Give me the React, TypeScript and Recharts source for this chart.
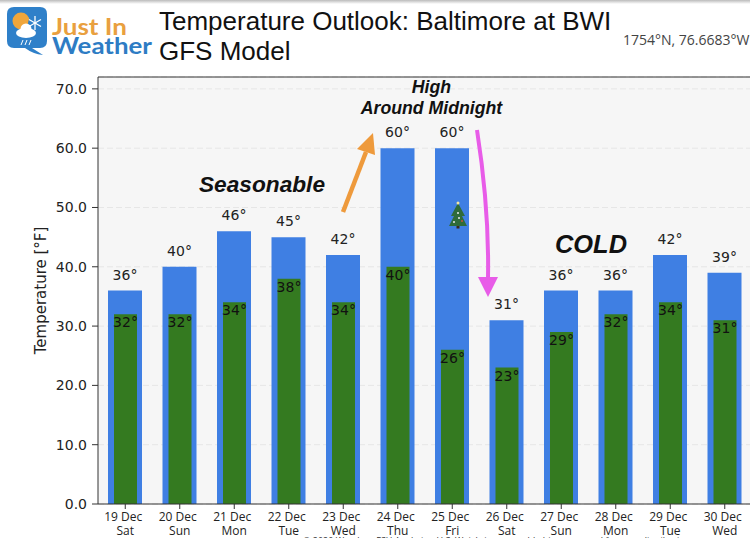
import React from 'react';
import { BarChart, Bar, XAxis, YAxis, CartesianGrid, LabelList } from 'recharts';

const days = ['19 Dec', '20 Dec', '21 Dec', '22 Dec', '23 Dec', '24 Dec', '25 Dec', '26 Dec', '27 Dec', '28 Dec', '29 Dec', '30 Dec'];
const weekdays = ['Sat', 'Sun', 'Mon', 'Tue', 'Wed', 'Thu', 'Fri', 'Sat', 'Sun', 'Mon', 'Tue', 'Wed'];
const highs = [36, 40, 46, 45, 42, 60, 60, 31, 36, 36, 42, 39];
const lows = [32, 32, 34, 38, 34, 40, 26, 23, 29, 32, 34, 31];
const yTicks = [0, 10, 20, 30, 40, 50, 60, 70];

const data = days.map((day, i) => ({ day, weekday: weekdays[i], high: highs[i], low: lows[i] }));

const plotFont = '"DejaVu Sans", sans-serif';
const titleFont = '"Liberation Sans", sans-serif';
const degrees = (v: number) => `${v}°`;

// two line date label, same as the original matplotlib ticks
const DayTick = ({ x, y, payload, index }: any) => (
    <text x={x} y={y} textAnchor="middle" fontFamily='"Open Sans", sans-serif' fontSize={12} fill="#222">
        <tspan x={x - 2} dy={10}>{payload.value}</tspan>
        <tspan x={x} dy={13.5}>{weekdays[index]}</tspan>
    </text>
);

const Overlay = () => (
    <svg width={750} height={538} style={{ position: 'absolute', left: 0, top: 0 }}>
        <defs>
            <linearGradient id="topShade" x1="0" y1="0" x2="0" y2="1">
                <stop offset="0%" stopColor="#bbb" />
                <stop offset="100%" stopColor="#fff" />
            </linearGradient>
        </defs>
        <rect x={0} y={0} width={750} height={4} fill="url(#topShade)" />

        {/* logo */}
        <path d="M14 7 H40 Q47 7 47 14 V41 Q47 48 40 48 H32 L43 55 Q33 54 25 48 H14 Q7 48 7 41 V14 Q7 7 14 7 Z" fill="#2f80c9" />
        <circle cx={21} cy={21} r={8.5} fill="#f0a63c" />
        <circle cx={35} cy={23} r={7} fill="#2f80c9" />
        <g stroke="#fff" strokeWidth={1.3}>
            <line x1={35} y1={16} x2={35} y2={30} />
            <line x1={29} y1={19.5} x2={41} y2={26.5} />
            <line x1={29} y1={26.5} x2={41} y2={19.5} />
        </g>
        <ellipse cx={26} cy={33} rx={10} ry={5} fill="#fff" />
        <circle cx={26} cy={29} r={5.5} fill="#fff" />
        <g stroke="#fff" strokeWidth={1}>
            <line x1={23} y1={40} x2={21} y2={45} />
            <line x1={27} y1={40} x2={25} y2={45} />
            <line x1={31} y1={40} x2={29} y2={45} />
        </g>
        <text x={52} y={35} fontFamily="Lato, sans-serif" fontWeight={700} fontSize={22} fill="#e9a03f" textLength={75} lengthAdjust="spacingAndGlyphs">Just In</text>
        <text x={52} y={54} fontFamily="Lato, sans-serif" fontWeight={700} fontSize={22} fill="#2e7cc4" textLength={100} lengthAdjust="spacingAndGlyphs">Weather</text>

        <text x={159} y={30} fontFamily={titleFont} fontSize={26} fill="#111">Temperature Outlook: Baltimore at BWI</text>
        <text x={159} y={60} fontFamily={titleFont} fontSize={26} fill="#111">GFS Model</text>
        <text x={623} y={45} fontFamily='"Open Sans", sans-serif' fontSize={14} fill="#444">1754°N, 76.6683°W</text>

        {/* plot frame, top edge */}
        <line x1={98} y1={77} x2={750} y2={77} stroke="#333" strokeWidth={1} />

        <text x={262} y={192} textAnchor="middle" fontFamily={titleFont} fontWeight={700} fontStyle="italic" fontSize={22.7} fill="#111">Seasonable</text>
        <text x={591} y={253} textAnchor="middle" fontFamily={titleFont} fontWeight={700} fontStyle="italic" fontSize={25.4} fill="#111">COLD</text>
        <text x={431.5} y={93} textAnchor="middle" fontFamily={titleFont} fontWeight={700} fontStyle="italic" fontSize={17.7} fill="#111">High</text>
        <text x={431.5} y={114} textAnchor="middle" fontFamily={titleFont} fontWeight={700} fontStyle="italic" fontSize={17.7} fill="#111">Around Midnight</text>

        {/* orange arrow */}
        <line x1={343} y1={212} x2={366} y2={152} stroke="#ee9a3c" strokeWidth={4.5} />
        <polygon points="373,133 375,155 357,149" fill="#ee9a3c" />

        {/* magenta arrow */}
        <path d="M477 130 C484 175 489 225 488 278" fill="none" stroke="#e85ce8" strokeWidth={4} />
        <polygon points="488,297 478,277 498,277" fill="#e85ce8" />

        {/* tree */}
        <polygon points="458,203 451,216 454,216 449,226 467,226 462,216 465,216" fill="#2f6b3a" />
        <rect x={456.5} y={226} width={3} height={2.5} fill="#3a2a1c" />
        <circle cx={458} cy={203} r={1.5} fill="#f2e6a0" />
        <circle cx={454} cy={222} r={1} fill="#e8e8e8" />
        <circle cx={462} cy={221} r={1} fill="#c9503c" />
        <circle cx={458} cy={213} r={1} fill="#e8e8e8" />
        <circle cx={459} cy={218} r={1} fill="#e8e8e8" />

        <text x={303} y={544} fontFamily='"Open Sans", sans-serif' fontSize={9} fill="#333">© 2020 Weather, FSU Analytics, U.S. Weighting ensemble bias-corrected forecast distribution</text>
    </svg>
);

const App: React.FC = () => (
    <div style={{ position: 'fixed', left: 0, top: 0, width: 750, height: 538, overflow: 'hidden', background: '#fff' }}>
        <BarChart
            width={770}
            height={538}
            data={data}
            margin={{ top: 77, right: 18, bottom: 0, left: 30 }}
            style={{ position: 'absolute', left: 0, top: 0 }}
        >
            <CartesianGrid vertical={false} fill="#f6f6f6" fillOpacity={1} stroke="#e6e6e6" strokeDasharray="6 3" />
            <XAxis xAxisId="high" dataKey="day" interval={0} height={34} stroke="#333" tick={<DayTick />} tickSize={5} />
            <XAxis xAxisId="low" dataKey="day" hide />
            <YAxis
                domain={[0, 72]}
                ticks={yTicks}
                width={68}
                stroke="#333"
                tickSize={6}
                tickMargin={5}
                tickFormatter={(v: number) => v.toFixed(1)}
                tick={{ fill: '#222', fontSize: 14, fontFamily: plotFont }}
                label={{ value: 'Temperature [°F]', angle: -90, position: 'insideLeft', offset: 11, textAnchor: 'middle', fill: '#222', fontSize: 15, fontFamily: plotFont }}
            />
            <Bar xAxisId="high" dataKey="high" fill="#3f7fe3" barSize={34} isAnimationActive={false}>
                <LabelList dataKey="high" position="top" offset={11} formatter={degrees} fill="#222" fontSize={14} fontFamily={plotFont} />
            </Bar>
            <Bar xAxisId="low" dataKey="low" fill="#347a20" barSize={23} isAnimationActive={false}>
                <LabelList dataKey="low" position="insideTop" offset={3} formatter={degrees} fill="#111" fontSize={14} fontFamily={plotFont} />
            </Bar>
        </BarChart>
        <Overlay />
    </div>
);

export default App;
